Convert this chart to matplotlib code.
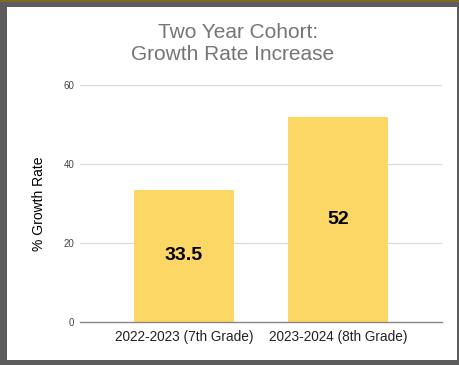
import matplotlib.pyplot as plt
from matplotlib.patches import Rectangle

# Data
categories = ["2022-2023 (7th Grade)", "2023-2024 (8th Grade)"]
growth_rate = [33.5, 52]
value_labels = ["33.5", "52"]
y_ticks = [0, 20, 40, 60]

plt.rcParams["font.family"] = ["Liberation Sans", "DejaVu Sans"]

W, H = 460, 365
fig = plt.figure(figsize=(W / 100, H / 100), dpi=100, facecolor="#5c5c5c")

# screenshot frame: olive strip on top, white card inside the dark border
fig.patches.append(Rectangle((0, 1 - 2 / H), 1, 2 / H, transform=fig.transFigure,
                             facecolor="#7a6a22", edgecolor="none", zorder=-1))
fig.patches.append(Rectangle((7 / W, 5 / H), 450 / W, 353 / H, transform=fig.transFigure,
                             facecolor="white", edgecolor="none", zorder=-1))

ax = fig.add_axes([80 / W, (H - 322) / H, 362 / W, 237 / H])
ax.set_facecolor("none")

x = range(len(categories))
bars = ax.bar(x, growth_rate, width=0.65, color="#fdd766", zorder=2)

for bar, lab in zip(bars, value_labels):
    ax.text(bar.get_x() + bar.get_width() / 2, bar.get_height() / 2, lab,
            ha="center", va="center", fontsize=14, fontweight="bold", color="black", zorder=3)

ax.set_xlim(-0.675, 1.675)
ax.set_ylim(0, 60)
ax.set_yticks(y_ticks)
ax.set_xticks(list(x))
ax.set_xticklabels(categories, fontsize=9.8, color="#222222")
ax.tick_params(axis="y", length=0, pad=4, labelsize=7, labelcolor="#444444")
ax.tick_params(axis="x", length=0, pad=6)
ax.grid(axis="y", color="#d9d9d9", linewidth=0.8, zorder=1)

for side in ["top", "right", "left"]:
    ax.spines[side].set_visible(False)
ax.spines["bottom"].set_color("#888888")
ax.spines["bottom"].set_linewidth(1.0)
ax.spines["bottom"].set_zorder(3)

ax.set_ylabel("% Growth Rate", fontsize=10, color="black", labelpad=13)

# Title
fig.text(238 / W, 1 - 33 / H, "Two Year Cohort:", ha="center", va="center",
         fontsize=15, color="#757575")
fig.text(233 / W, 1 - 55 / H, "Growth Rate Increase", ha="center", va="center",
         fontsize=15, color="#757575")

fig.savefig("out.png", dpi=100, facecolor=fig.get_facecolor())
